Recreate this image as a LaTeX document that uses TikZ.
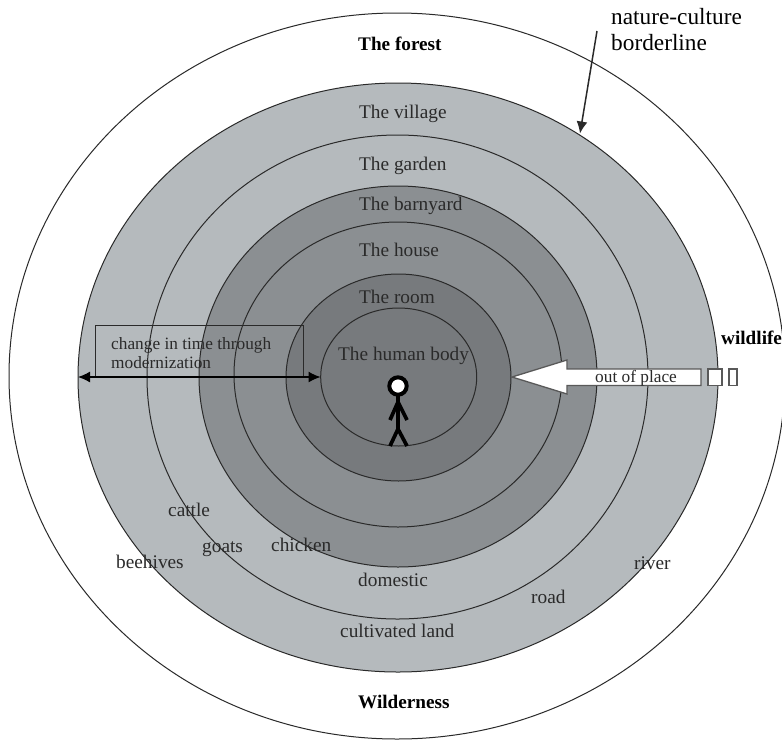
\documentclass[tikz,border=0pt]{standalone}
\usepackage{fontspec}
\setmainfont{Liberation Serif}
\usetikzlibrary{arrows.meta,positioning}
\definecolor{ringlight}{HTML}{B5BABD}
\definecolor{ringmid}{HTML}{8B8F92}
\definecolor{ringdark}{HTML}{777A7D}
\definecolor{inkgray}{HTML}{2A2A2A}
\tikzset{
>={Latex[length=12pt,width=11pt]},
lab/.style={anchor=base west,inner sep=0pt,text=inkgray,font=\fontsize{19.3}{20}\selectfont},
smalllab/.style={lab,font=\fontsize{17.3}{20}\selectfont},
boldlab/.style={lab,text=black,font=\fontsize{19.2}{20}\selectfont\bfseries},
biglab/.style={lab,text=black,font=\fontsize{23.3}{24}\selectfont},
ring/.style={draw=inkgray,line width=1pt},
outplace/.style={draw=black!65,fill=white,line width=1.3pt}
}

\begin{document}
\begin{tikzpicture}[x=1pt,y=-1pt]
\clip (0,0) rectangle (782,740);
\fill[white] (0,0) rectangle (782,740);

\foreach \cx/\cy/\rx/\ry/\col in {397/376/388/363/white,398/377.5/320/294.5/ringlight,397.5/377/250.5/242/ringlight,398/376.5/199/190.5/ringmid,398/374.5/164/152.5/ringmid,398.5/377.5/112.5/103.5/ringdark,398.7/377/78/69/ringdark} {
\draw[ring,fill=\col] (\cx,\cy) ellipse [x radius=\rx,y radius=\ry];
}

\coordinate (c0) at (78,377);
\coordinate (c1) at (320.5,377);
\coordinate (c2) at (597,31);
\coordinate (c3) at (580,133.5);

\node (l0) at (358,50) [boldlab] {The forest};
\node (l1) at (359,118) [lab] {The village};
\node (l2) at (359,170) [lab] {The garden};
\node (l3) at (359,210) [lab] {The barnyard};
\node (l4) at (359,256) [lab] {The house};
\node (l5) at (359,303) [lab] {The room};
\node (l6) at (338,360) [lab] {The human body};
\node (l7) at (358,586) [lab] {domestic};
\node (l8) at (340,637) [lab] {cultivated land};
\node (l9) at (358,708) [boldlab] {Wilderness};
\node (l10) at (168,516) [lab] {cattle};
\node (l11) at (202,552) [lab] {goats};
\node (l12) at (271,551) [lab] {chicken};
\node (l13) at (116,568) [lab] {beehives};
\node (l14) at (531,603) [lab] {road};
\node (l15) at (634,569) [lab] {river};
\node (l16) at (721,344) [boldlab] {wildlife};
\node (l17) at (611,24) [biglab] {nature-culture};
\node (l18) at (611,50) [biglab] {borderline};

\node (l19) at (111,349) [smalllab] {change in time through};
\node (l20) at (111,368) [smalllab] {modernization};
\draw[draw=inkgray,line width=1pt] (95.5,377) -- (95.5,325) -- (303,325) -- (303,377);
\draw[<->,line width=1.3pt,black] (c0) -- (c1);
\draw[->,line width=1.5pt,inkgray] (c2) -- (c3);

\draw[outplace] (512,377) -- (567,360) -- (567,369) -- (701,369) -- (701,385.5) -- (567,385.5) -- (567,394) -- cycle;
\node (l21) at (595,382) [smalllab] {out of place};
\draw[outplace] (708,369) rectangle (722,385.5);
\draw[outplace] (729,369) rectangle (737,385.5);

% stick man
\draw[black,line width=4pt,fill=white] (398,386) circle (8.7);
\draw[black,line width=3.7pt] (398,396) -- (398,429);
\draw[black,line width=3.7pt] (390,420) -- (398,402) -- (407,420);
\draw[black,line width=3.7pt] (390,446) -- (398,429) -- (407,446);
\end{tikzpicture}
\end{document}
